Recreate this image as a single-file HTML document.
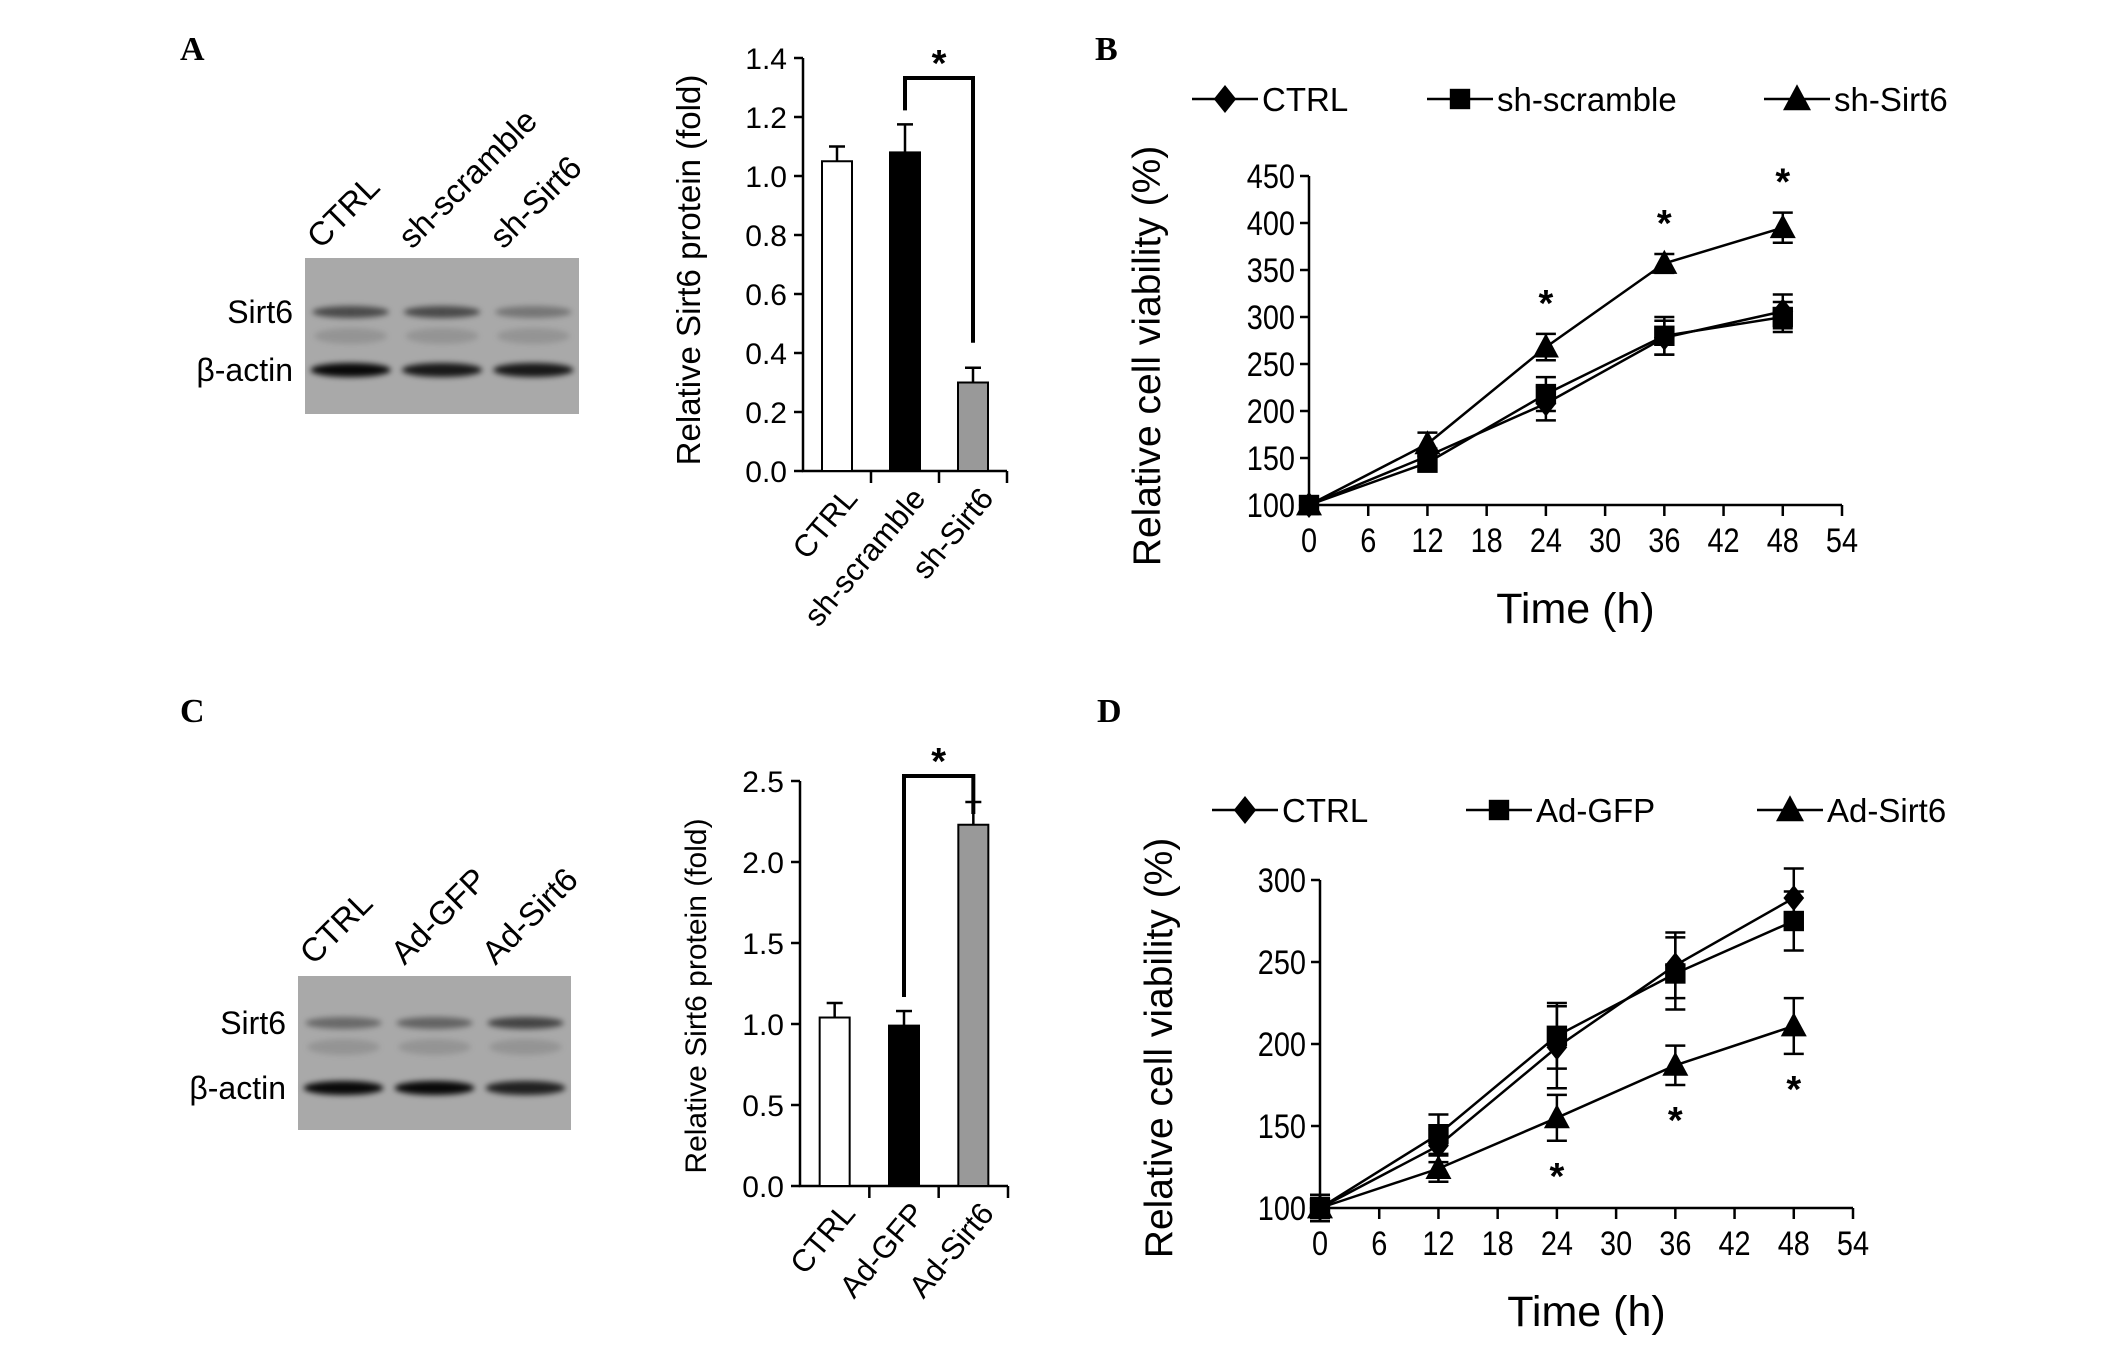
<!DOCTYPE html>
<html><head><meta charset="utf-8"><style>
html,body{margin:0;padding:0;background:#fff;}
svg{display:block;font-family:"Liberation Sans",Arial,sans-serif;}
</style></head><body>
<svg id="fig" width="2126" height="1352" viewBox="0 0 2126 1352">
<defs>
<filter id="blur" x="-20%" y="-100%" width="140%" height="300%"><feGaussianBlur stdDeviation="3"/></filter>
</defs>
<g font-family="Liberation Serif, serif" font-weight="bold" font-size="34" fill="#000">
<text x="180" y="60">A</text>
<text x="1095" y="60">B</text>
<text x="180" y="722">C</text>
<text x="1097" y="722">D</text>
</g>
<g id="blots"></g>
<g id="charts"></g>
</svg>
<script>
// ---------- data ----------
const barCatsA = ["CTRL","sh-scramble","sh-Sirt6"];
const barValsA = [1.05,1.08,0.30];
const barErrA = [0.05,0.095,0.05];
const barTicksA = ["0.0","0.2","0.4","0.6","0.8","1.0","1.2","1.4"];
const barCatsC = ["CTRL","Ad-GFP","Ad-Sirt6"];
const barValsC = [1.04,0.99,2.23];
const barErrC = [0.09,0.09,0.14];
const barTicksC = ["0.0","0.5","1.0","1.5","2.0","2.5"];
const timeH = [0,12,24,36,48];
const xTicks = ["0","6","12","18","24","30","36","42","48","54"];
const seriesNamesB = ["CTRL","sh-scramble","sh-Sirt6"];
const bCtrl = [100,152,208,278,306];
const bScr = [100,145,218,280,300];
const bSirt = [100,165,268,357,395];
const bCtrlErr = [5,8,18,18,18];
const bScrErr = [5,8,18,20,16];
const bSirtErr = [5,12,14,10,16];
const yTicksB = ["100","150","200","250","300","350","400","450"];
const seriesNamesD = ["CTRL","Ad-GFP","Ad-Sirt6"];
const dCtrl = [100,138,198,248,289];
const dGfp = [100,145,205,243,275];
const dSirt = [100,124,155,187,211];
const dCtrlErr = [8,10,25,20,18];
const dGfpErr = [8,12,20,22,18];
const dSirtErr = [6,8,14,12,17];
const yTicksD = ["100","150","200","250","300"];
const lanesA = ["CTRL","sh-scramble","sh-Sirt6"];
const lanesC = ["CTRL","Ad-GFP","Ad-Sirt6"];
const sirtBandA = [0.75,0.75,0.4];
const actinBandA = [1,0.9,0.9];
const sirtBandC = [0.5,0.55,0.8];
const actinBandC = [1,1,0.85];

const NS="http://www.w3.org/2000/svg";
function mk(tag,attrs,parent){const e=document.createElementNS(NS,tag);for(const k in attrs)e.setAttribute(k,attrs[k]);parent.appendChild(e);return e;}
const charts=document.getElementById('charts');
const blots=document.getElementById('blots');

// ---------- blots ----------
function blot(x0,y0,w,h,lanes,sirt,actin,sirtY,actY,labelY,suffix){
  const g=mk('g',{},blots);
  
  
  const r=mk('rect',{x:x0,y:y0,width:w,height:h,fill:'#a9a9a9'},g);
  
  
  const lw=w/3;
  lanes.forEach((ln,i)=>{
    const cx=x0+lw*(i+0.5);
    const b1=mk('ellipse',{cx:cx,cy:sirtY,rx:lw*0.42,ry:6,fill:'#000','fill-opacity':sirt[i]*0.75,filter:'url(#blur)'},g);
    
    
    mk('ellipse',{cx:cx,cy:sirtY+24,rx:lw*0.4,ry:8,fill:'#000','fill-opacity':0.12,filter:'url(#blur)'},g);
    const b2=mk('ellipse',{cx:cx,cy:actY,rx:lw*0.44,ry:7,fill:'#000','fill-opacity':actin[i]*0.95,filter:'url(#blur)'},g);
    
    
    const t=mk('text',{x:0,y:0,'font-size':33,transform:`translate(${cx-30},${labelY}) rotate(-45)`},g);
    t.textContent=ln;
    
    
  });
  const l1=mk('text',{x:x0-12,y:sirtY+11,'font-size':32,'text-anchor':'end'},g);l1.textContent='Sirt6';
  
  
  const l2=mk('text',{x:x0-12,y:actY+11,'font-size':32,'text-anchor':'end'},g);l2.textContent='β-actin';
  
  
}
blot(305,258,274,156,lanesA,sirtBandA,actinBandA,312,370,250,'a');
blot(298,976,273,154,lanesC,sirtBandC,actinBandC,1023,1088,966,'c');

// ---------- bar charts ----------
function barChart(o){
  const g=mk('g',{},charts);
  
  
  const ymax=o.max;
  const y=v=>o.y0-(v/ymax)*(o.y0-o.yTop);
  const n=o.cats.length, step=(o.xEnd-o.x0)/n;
  const x=i=>o.x0+step*(i+0.5);
  const ax=mk('path',{d:`M${o.x0},${o.yTop} V${o.y0} H${o.xEnd}`,stroke:'#000','stroke-width':2.5,fill:'none'},g);
  
  
  o.ticks.forEach((t,i)=>{
    const v=ymax*i/(o.ticks.length-1);
    mk('line',{x1:o.x0-9,x2:o.x0,y1:y(v),y2:y(v),stroke:'#000','stroke-width':2.5},g);
    const tt=mk('text',{x:o.x0-16,y:y(v)+11,'font-size':30,'text-anchor':'end'},g);tt.textContent=t;
    
    
  });
  for(let i=1;i<=n;i++) mk('line',{x1:o.x0+step*i,x2:o.x0+step*i,y1:o.y0,y2:o.y0+12,stroke:'#000','stroke-width':2.5},g);
  const fills=['#fff','#000','#999'];
  o.cats.forEach((c,i)=>{
    const bw=30;
    mk('line',{x1:x(i),x2:x(i),y1:y(o.vals[i]),y2:y(o.vals[i]+o.err[i]),stroke:'#000','stroke-width':2.5},g);
    mk('line',{x1:x(i)-8,x2:x(i)+8,y1:y(o.vals[i]+o.err[i]),y2:y(o.vals[i]+o.err[i]),stroke:'#000','stroke-width':2.5},g);
    const b=mk('rect',{x:x(i)-bw/2,y:y(o.vals[i]),width:bw,height:o.y0-y(o.vals[i]),fill:fills[i],stroke:'#000','stroke-width':2},g);
    
    
    const t=mk('text',{x:0,y:0,'font-size':31,'text-anchor':'end',transform:`translate(${x(i)+22},${o.y0+28}) rotate(-50)`},g);
    t.textContent=c;
    
    
  });
  const top=o.bracketY;
  const br=mk('path',{d:`M${x(1)},${y(o.vals[1]+o.err[1])-14} V${top} H${x(2)} V${y(o.vals[2]+o.err[2])-o.rightGap}`,stroke:'#000','stroke-width':4,fill:'none'},g);
  
  
  const st=mk('text',{x:(x(1)+x(2))/2,y:top-2,'font-size':38,'text-anchor':'middle','font-weight':'bold'},g);st.textContent='*';
  
  
  const yt=mk('text',{x:0,y:0,'font-size':o.titleSize,'text-anchor':'middle',transform:`translate(${o.titleX},${o.titleY}) rotate(-90)`},g);
  yt.textContent='Relative Sirt6 protein (fold)';
  
  
}
barChart({id:'a',cats:barCatsA,vals:barValsA,err:barErrA,ticks:barTicksA,max:1.4,x0:803,xEnd:1007,y0:471,yTop:58,bracketY:78,rightGap:25,titleX:700,titleY:270,titleSize:33});
barChart({id:'c',cats:barCatsC,vals:barValsC,err:barErrC,ticks:barTicksC,max:2.5,x0:800,xEnd:1008,y0:1186,yTop:781,bracketY:776,rightGap:-12,titleX:706,titleY:996,titleSize:30});

// ---------- line charts ----------
function marker(g,type,cx,cy,s){
  let e;
  if(type==0) e=mk('path',{d:`M${cx},${cy-s} L${cx+s*0.8},${cy} L${cx},${cy+s} L${cx-s*0.8},${cy}Z`,fill:'#000'},g);
  else if(type==1) e=mk('rect',{x:cx-s*0.85,y:cy-s*0.85,width:s*1.7,height:s*1.7,fill:'#000'},g);
  else e=mk('path',{d:`M${cx},${cy-s*1.05} L${cx+s},${cy+s*0.8} L${cx-s},${cy+s*0.8}Z`,fill:'#000'},g);
  return e;
}
function lineChart(o){
  const g=mk('g',{},charts);
  
  
  const ymin=100,ymax=100+50*(o.yTicks.length-1);
  const y=v=>o.y0-(v-ymin)/(ymax-ymin)*(o.y0-o.yTop);
  const x=t=>o.x0+t/54*(o.xEnd-o.x0);
  const ax=mk('path',{d:`M${o.x0},${o.yTop} V${o.y0} H${o.xEnd}`,stroke:'#000','stroke-width':2.5,fill:'none'},g);
  
  
  o.yTicks.forEach((t,i)=>{
    const v=ymin+50*i;
    mk('line',{x1:o.x0-9,x2:o.x0,y1:y(v),y2:y(v),stroke:'#000','stroke-width':2.5},g);
    const tt=mk('text',{x:0,y:0,'font-size':34,'text-anchor':'end',transform:`translate(${o.x0-14},${y(v)+12}) scale(0.85,1)`},g);tt.textContent=t;
    
    
  });
  xTicks.forEach(t=>{
    const xv=x(+t);
    mk('line',{x1:xv,x2:xv,y1:o.y0,y2:o.y0+11,stroke:'#000','stroke-width':2.5},g);
    const tt=mk('text',{x:0,y:0,'font-size':34,'text-anchor':'middle',transform:`translate(${xv},${o.y0+47}) scale(0.85,1)`},g);tt.textContent=t;
    
    
  });
  const xt=mk('text',{x:(o.x0+o.xEnd)/2,y:o.y0+118,'font-size':43,'text-anchor':'middle'},g);xt.textContent='Time (h)';
  
  
  const yt=mk('text',{x:0,y:0,'font-size':39,'text-anchor':'middle',transform:`translate(${o.titleX},${o.titleY}) rotate(-90)`},g);yt.textContent='Relative cell viability (%)';
  
  
  o.series.forEach((s,k)=>{
    const sg=mk('g',{},g);
    
    
    const p=mk('polyline',{points:timeH.map((t,i)=>x(t)+','+y(s[i])).join(' '),fill:'none',stroke:'#000','stroke-width':2.5},sg);
    
    
    timeH.forEach((t,i)=>{
      const e=o.errs[k][i];
      mk('line',{x1:x(t),x2:x(t),y1:y(s[i]-e),y2:y(s[i]+e),stroke:'#000','stroke-width':2.5},sg);
      mk('line',{x1:x(t)-10,x2:x(t)+10,y1:y(s[i]-e),y2:y(s[i]-e),stroke:'#000','stroke-width':2.5},sg);
      mk('line',{x1:x(t)-10,x2:x(t)+10,y1:y(s[i]+e),y2:y(s[i]+e),stroke:'#000','stroke-width':2.5},sg);
      const m=marker(sg,k,x(t),y(s[i]),k==1?12:13);
      
      
    });
  });
  [2,3,4].forEach(i=>{
    const s=o.series[2],e=o.errs[2][i];
    const sy=o.starAbove? y(s[i]+e)-18 : y(s[i]-e)+48;
    const st=mk('text',{x:x(timeH[i]),y:sy,'font-size':38,'text-anchor':'middle','font-weight':'bold'},g);st.textContent='*';
    
    
  });
  o.names.forEach((nm,k)=>{
    const lg=mk('g',{},g);
    
    
    const lx=o.legX[k];
    mk('line',{x1:lx,x2:lx+66,y1:o.legY,y2:o.legY,stroke:'#000','stroke-width':2.5},lg);
    marker(lg,k,lx+33,o.legY,k==1?12:14);
    const t=mk('text',{x:lx+70,y:o.legY+12,'font-size':33},lg);t.textContent=nm;
  });
}
lineChart({id:'b',series:[bCtrl,bScr,bSirt],errs:[bCtrlErr,bScrErr,bSirtErr],names:seriesNamesB,yTicks:yTicksB,
  x0:1309,xEnd:1842,y0:505,yTop:176,titleX:1160,titleY:356,starAbove:true,legX:[1192,1427,1764],legY:99});
lineChart({id:'d',series:[dCtrl,dGfp,dSirt],errs:[dCtrlErr,dGfpErr,dSirtErr],names:seriesNamesD,yTicks:yTicksD,
  x0:1320,xEnd:1853,y0:1208,yTop:880,titleX:1172,titleY:1048,starAbove:false,legX:[1212,1466,1757],legY:810});
</script>
</body></html>
